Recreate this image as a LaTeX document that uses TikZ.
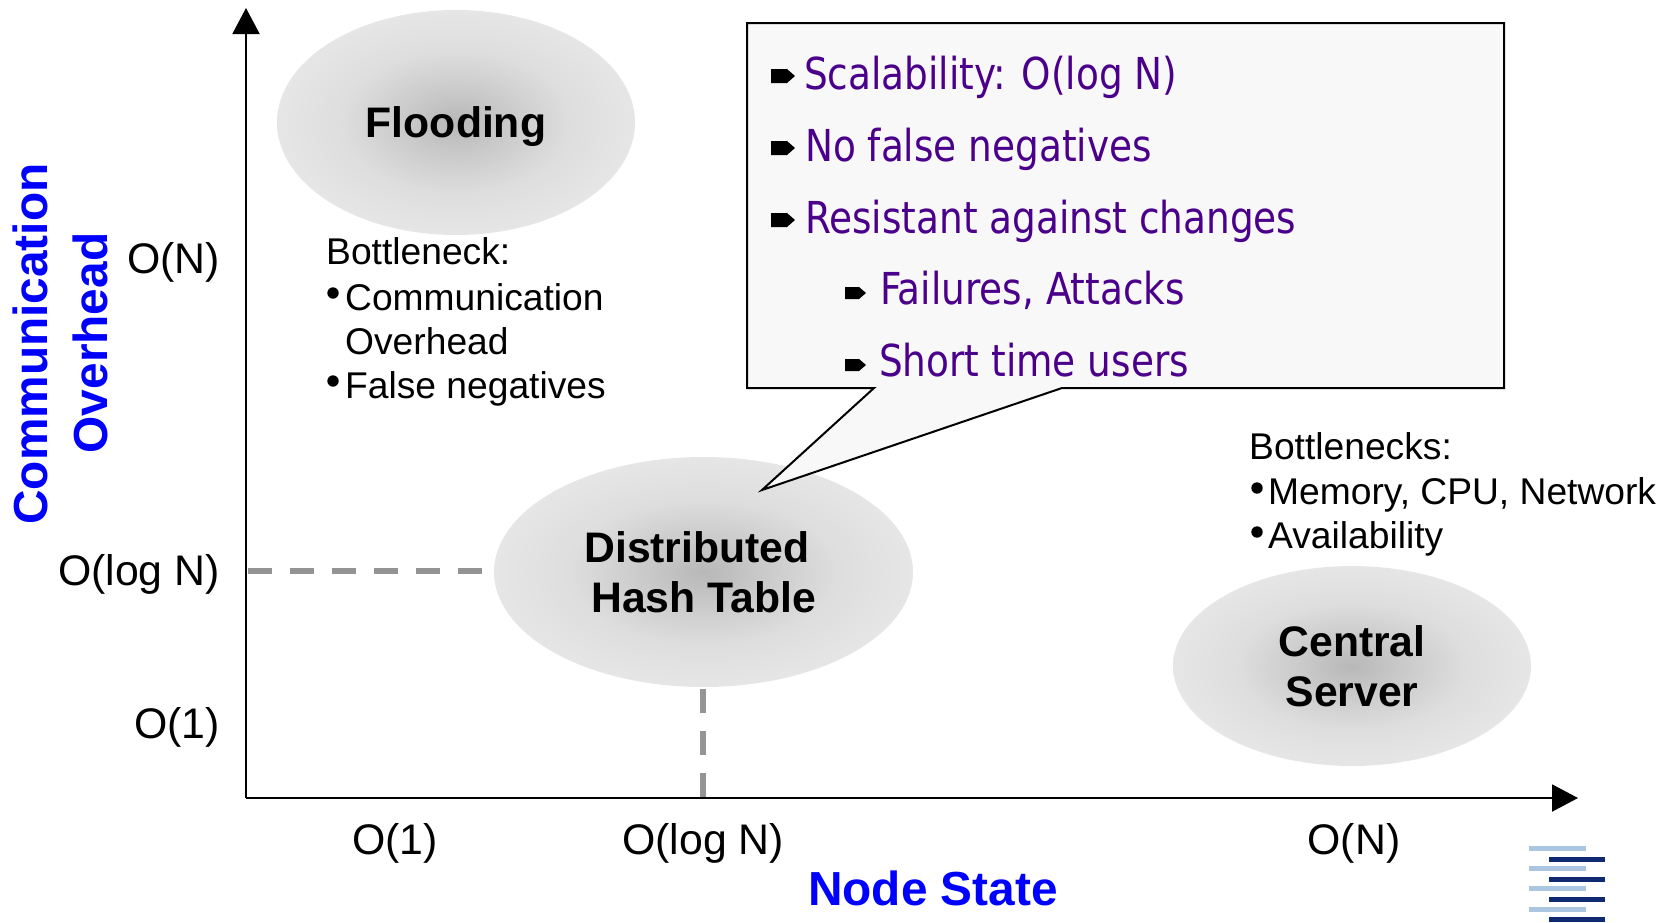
\documentclass[tikz,border=0pt]{standalone}
\usepackage{fontspec}
\setmainfont{Liberation Sans}
\newfontfamily\tah[FakeStretch=0.945]{DejaVu Sans Condensed}
\usetikzlibrary{shapes.geometric,arrows.meta}
\definecolor{blobA}{gray}{0.72}
\definecolor{blobB}{gray}{0.79}
\definecolor{blobC}{gray}{0.87}
\definecolor{blobD}{gray}{0.905}
\definecolor{blobE}{gray}{0.925}
\definecolor{axisblue}{RGB}{0,0,255}
\definecolor{purp}{RGB}{75,0,140}
\definecolor{dashgray}{RGB}{148,148,148}
\definecolor{callfill}{RGB}{248,248,248}
\definecolor{logolight}{RGB}{170,198,224}
\definecolor{logodark}{RGB}{15,42,112}
\pgfdeclareradialshading{blobshade}{\pgfpoint{0bp}{0bp}}{color(0bp)=(blobA); color(7bp)=(blobB); color(16bp)=(blobC); color(26bp)=(blobD); color(35bp)=(blobE); color(50bp)=(blobE)}
\newcommand{\fs}[2]{\fontsize{#1}{#2}\selectfont}
\tikzset{
  x=1pt,y=-1pt,
  blob/.style={ellipse,shading=blobshade,draw=none,inner sep=0pt,align=center,font=\fs{42.7}{50}\bfseries},
  axisline/.style={line width=2pt,-{Triangle[length=26pt,width=27pt]}},
  guide/.style={line width=6pt,dashgray,dash pattern=on 24pt off 18pt},
  ticklabel/.style={font=\fs{42.8}{50},inner sep=0pt},
  axistitle/.style={font=\fs{47.8}{60}\bfseries,text=axisblue,inner sep=0pt},
  note/.style={font=\fs{37.2}{44},inner sep=0pt,anchor=base west},
  callitem/.style={font=\tah\fs{44}{50},text=purp,inner sep=0pt,anchor=base west},
  logobar/.style={line width=5pt},
}
\newcommand{\notedot}[2]{\fill (#1,#2) circle (5.7pt);}
\newcommand{\bigmark}[2]{\fill[shift={(#1,#2)}] (0,-7) -- (16,-7) -- (24,0) -- (16,7) -- (0,7) -- cycle;}
\newcommand{\smallmark}[2]{\fill[shift={(#1,#2)}] (0,-6) -- (14,-6) -- (21,0) -- (14,6) -- (0,6) -- cycle;}
\begin{document}
\begin{tikzpicture}
\useasboundingbox (0,0) rectangle (1675,922);
% ellipses
\node[blob,minimum width=358pt,minimum height=225pt,text depth=0pt] (flood) at (456,122.5) {Flooding};
\node[blob,minimum width=419pt,minimum height=230pt] (dht) at (703.5,572) {Distributed\hspace*{13pt}\\Hash Table};
\node[blob,minimum width=358pt,minimum height=200pt] (central) at (1352,666) {Central\\Server};
% axes
\coordinate (origin) at (246,798);
\coordinate (ytop) at (246,8);
\coordinate (xend) at (1578,798);
\draw[axisline] (origin) -- (ytop);
\draw[axisline] (origin) -- (xend);
% guides
\coordinate (yguide) at (248,571);
\coordinate (xguide) at (703,797);
\draw[guide,shorten >=11pt] (yguide) -- (yguide -| dht.west);
\draw[guide,shorten <=2pt] (dht.south -| xguide) -- (xguide);
% tick labels
\node[ticklabel,anchor=base east] (yn) at (220,273) {O(N)};
\node[ticklabel,anchor=base east] (ylog) at (220,585) {O(log N)};
\node[ticklabel,anchor=base east] (y1) at (220,738) {O(1)};
\node[ticklabel,anchor=base] (x1) at (395,854) {O(1)};
\node[ticklabel,anchor=base] (xlog) at (703,854) {O(log N)};
\node[ticklabel,anchor=base] (xn) at (1354,854) {O(N)};
% axis titles
\node[axistitle,rotate=90,anchor=base] (ytitleA) at (47,344) {Communication};
\node[axistitle,rotate=90,anchor=base] (ytitleB) at (107,343) {Overhead};
\node[axistitle,anchor=base] (xtitle) at (933,905) {Node State};
% notes
\node[note] (n1) at (326,264) {Bottleneck:};
\notedot{333}{293}
\node[note] (n2) at (345,310) {Communication};
\node[note] (n3) at (345,354) {Overhead};
\notedot{333}{381}
\node[note] (n4) at (345,398) {False negatives};
\node[note] (m1) at (1249,459) {Bottlenecks:};
\notedot{1257}{488}
\node[note] (m2) at (1268,504) {Memory, CPU, Network};
\notedot{1257}{532}
\node[note] (m3) at (1268,548) {Availability};
% callout
\draw[line width=2pt,fill=callfill,line join=miter] (747,23) -- (1504,23) -- (1504,388) -- (1062,388) -- (762,490) -- (874,388) -- (747,388) -- cycle;
\bigmark{771}{76}
\node[callitem] (c1) at (804,89) {Scalability: O(log N)};
\bigmark{771}{148}
\node[callitem] (c2) at (805,161) {No false negatives};
\bigmark{771}{220}
\node[callitem] (c3) at (805,233) {Resistant against changes};
\smallmark{845}{293}
\node[callitem] (c4) at (880,304) {Failures, Attacks};
\smallmark{845}{365}
\node[callitem] (c5) at (879,376) {Short time users};
% logo
\foreach \yy in {848,868,888.5,909} \draw[logobar,logolight] (1529,\yy) -- (1586,\yy);
\foreach \yy in {859,879,899,919} \draw[logobar,logodark] (1549,\yy) -- (1605,\yy);
\end{tikzpicture}
\end{document}
